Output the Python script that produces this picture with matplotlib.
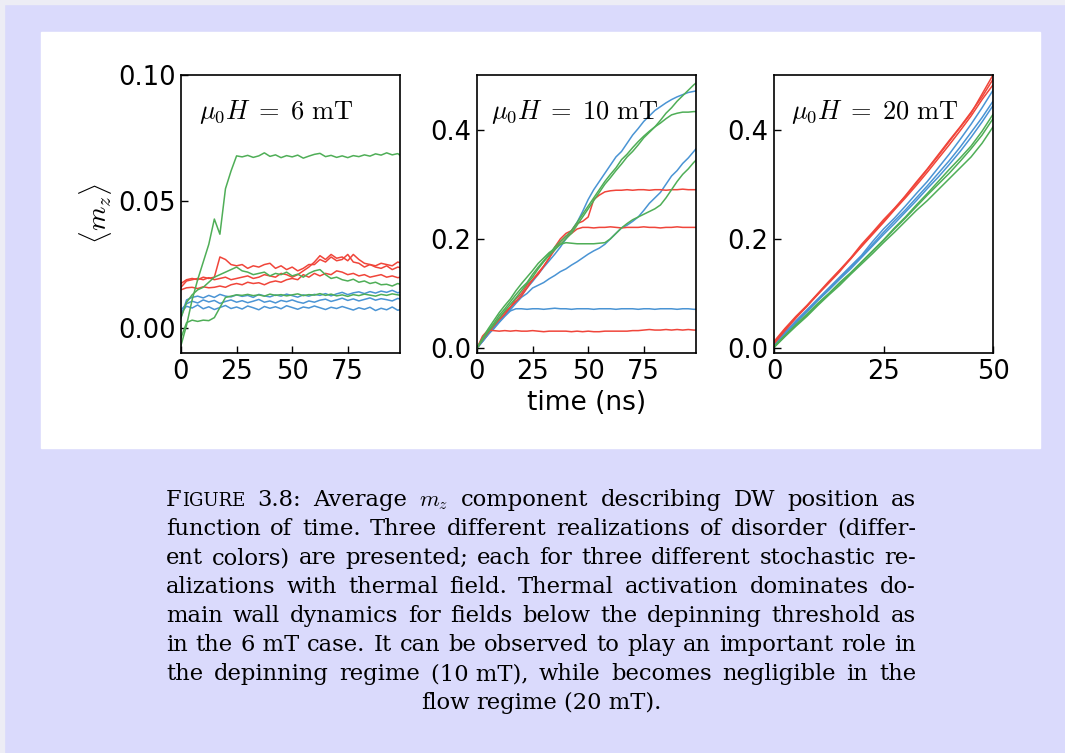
import numpy as np
import matplotlib
matplotlib.use("Agg")
from matplotlib import pyplot as plt
from matplotlib.patches import Rectangle

plt.rcParams['mathtext.fontset'] = 'cm'
plt.rcParams['font.family'] = ['DejaVu Sans']

# colours of the three disorder realizations
RED, BLUE, GREEN = '#f0453a', '#4a94d4', '#4fae57'

# ---- 6 mT (time grid in ns) ----
t6 = np.arange(0, 100.1, 2.5)
g6_a = [-0.007, 0.001, 0.011, 0.019, 0.026, 0.033, 0.043, 0.037, 0.055, 0.062,
        0.068, 0.0676, 0.0682, 0.0674, 0.0680, 0.0692, 0.0678, 0.0684, 0.0673, 0.0681,
        0.0676, 0.0683, 0.0671, 0.0679, 0.0686, 0.0690, 0.0677, 0.0682, 0.0674, 0.0680,
        0.0673, 0.0681, 0.0677, 0.0684, 0.0679, 0.0688, 0.0683, 0.0692, 0.0684, 0.0689,
        0.0672]
g6_b = [0.004, 0.010, 0.013, 0.015, 0.016, 0.018, 0.020, 0.021, 0.022, 0.023,
        0.024, 0.0225, 0.022, 0.021, 0.0215, 0.022, 0.0205, 0.0215, 0.021, 0.022,
        0.0205, 0.0212, 0.020, 0.0215, 0.0225, 0.023, 0.021, 0.0195, 0.020, 0.019,
        0.0185, 0.0192, 0.018, 0.0185, 0.0175, 0.018, 0.017, 0.0172, 0.0165, 0.0175,
        0.0168]
g6_c = [-0.004, 0.002, 0.003, 0.0025, 0.003, 0.0028, 0.004, 0.008, 0.012, 0.0125,
        0.013, 0.0128, 0.0132, 0.0127, 0.013, 0.0125, 0.0133, 0.0128, 0.0131, 0.0126,
        0.013, 0.0134, 0.0127, 0.0131, 0.0129, 0.0135, 0.0128, 0.0133, 0.0126, 0.013,
        0.0124, 0.0131, 0.0127, 0.0133, 0.0129, 0.0125, 0.0132, 0.0128, 0.0134, 0.013,
        0.0127]
r6_a = [0.0175, 0.019, 0.0195, 0.019, 0.020, 0.0195, 0.020, 0.028, 0.027, 0.025,
        0.0245, 0.025, 0.0235, 0.0245, 0.024, 0.025, 0.0255, 0.0235, 0.0245, 0.023,
        0.024, 0.0225, 0.0235, 0.025, 0.025, 0.027, 0.026, 0.028, 0.0265, 0.027,
        0.029, 0.026, 0.0255, 0.024, 0.025, 0.0245, 0.0255, 0.025, 0.0245, 0.026,
        0.0252]
r6_b = [0.016, 0.0185, 0.019, 0.0195, 0.019, 0.0198, 0.019, 0.0195, 0.020, 0.019,
        0.0195, 0.020, 0.0205, 0.0195, 0.020, 0.021, 0.0205, 0.020, 0.0215, 0.021,
        0.020, 0.021, 0.0225, 0.024, 0.026, 0.0285, 0.027, 0.029, 0.0275, 0.028,
        0.0265, 0.029, 0.027, 0.0255, 0.025, 0.024, 0.0235, 0.0245, 0.023, 0.024,
        0.0235]
r6_c = [0.015, 0.0158, 0.016, 0.0155, 0.0162, 0.0158, 0.016, 0.0165, 0.016, 0.017,
        0.0175, 0.017, 0.018, 0.0175, 0.0178, 0.017, 0.018, 0.0185, 0.018, 0.019,
        0.0195, 0.019, 0.021, 0.020, 0.0215, 0.0205, 0.0215, 0.021, 0.0225, 0.022,
        0.021, 0.0215, 0.0205, 0.021, 0.020, 0.0205, 0.021, 0.020, 0.0205, 0.0198,
        0.0202]
b6_a = [0.004, 0.011, 0.012, 0.0125, 0.0118, 0.0128, 0.012, 0.0132, 0.0125, 0.0122,
        0.013, 0.0124, 0.0128, 0.012, 0.0132, 0.0126, 0.0122, 0.013, 0.0125, 0.0133,
        0.0127, 0.0121, 0.013, 0.0125, 0.0132, 0.0128, 0.0135, 0.0126, 0.0134, 0.014,
        0.0131, 0.0138, 0.0142, 0.0135, 0.0143, 0.0137, 0.0145, 0.014, 0.0148, 0.0138,
        0.0146]
b6_b = [0.007, 0.0095, 0.0105, 0.0098, 0.011, 0.0102, 0.0108, 0.0096, 0.0104, 0.011,
        0.0101, 0.0107, 0.0099, 0.0105, 0.0112, 0.0101, 0.0106, 0.0098, 0.0108, 0.0103,
        0.011, 0.0102, 0.0097, 0.0106, 0.0101, 0.0109, 0.0113, 0.0104, 0.011, 0.0117,
        0.0108, 0.0114, 0.0106, 0.0112, 0.0118, 0.0109, 0.0115, 0.0111, 0.0106, 0.0116,
        0.011]
b6_c = [0.006, 0.0085, 0.0078, 0.009, 0.0075, 0.0083, 0.0072, 0.008, 0.0088, 0.0076,
        0.0082, 0.0074, 0.0086, 0.0079, 0.0071, 0.0084, 0.0077, 0.0083, 0.0075, 0.0087,
        0.008, 0.0073, 0.0082, 0.0078, 0.0086, 0.0079, 0.0072, 0.0081, 0.0076, 0.0084,
        0.0077, 0.007, 0.0079, 0.0073, 0.0081, 0.0068, 0.0077, 0.0071, 0.0082, 0.0069,
        0.0076]

# ---- 10 mT ----
t10 = np.arange(0, 100.1, 2.5)
r10_a = [0.0, 0.022, 0.033, 0.032, 0.031, 0.032, 0.031, 0.032, 0.031, 0.031,
         0.032, 0.031, 0.030, 0.031, 0.031, 0.031, 0.031, 0.030, 0.031, 0.030,
         0.031, 0.030, 0.030, 0.031, 0.031, 0.031, 0.031, 0.031, 0.032, 0.032,
         0.033, 0.034, 0.033, 0.033, 0.034, 0.033, 0.034, 0.033, 0.034, 0.033,
         0.033]
r10_b = [0.0, 0.015, 0.028, 0.040, 0.052, 0.062, 0.075, 0.085, 0.095, 0.110,
         0.125, 0.135, 0.150, 0.165, 0.180, 0.195, 0.205, 0.210, 0.218, 0.221,
         0.221, 0.220, 0.221, 0.221, 0.222, 0.221, 0.220, 0.221, 0.221, 0.221,
         0.222, 0.221, 0.221, 0.220, 0.221, 0.221, 0.222, 0.221, 0.221, 0.221,
         0.221]
r10_c = [0.0, 0.018, 0.030, 0.042, 0.055, 0.066, 0.075, 0.090, 0.100, 0.115,
         0.125, 0.138, 0.150, 0.165, 0.185, 0.200, 0.210, 0.215, 0.228, 0.232,
         0.240, 0.272, 0.280, 0.286, 0.288, 0.289, 0.289, 0.290, 0.289, 0.290,
         0.290, 0.289, 0.290, 0.290, 0.289, 0.290, 0.290, 0.291, 0.290, 0.290,
         0.290]
b10_a = [0.0, 0.012, 0.025, 0.035, 0.047, 0.058, 0.068, 0.072, 0.072, 0.071,
         0.072, 0.072, 0.071, 0.072, 0.073, 0.072, 0.072, 0.071, 0.072, 0.072,
         0.072, 0.071, 0.072, 0.072, 0.072, 0.071, 0.072, 0.072, 0.072, 0.071,
         0.072, 0.072, 0.071, 0.072, 0.072, 0.072, 0.071, 0.072, 0.072, 0.071,
         0.071]
b10_b = [0.0, 0.013, 0.025, 0.038, 0.050, 0.062, 0.073, 0.085, 0.097, 0.110,
         0.122, 0.135, 0.148, 0.160, 0.172, 0.185, 0.200, 0.215, 0.230, 0.250,
         0.272, 0.290, 0.305, 0.320, 0.335, 0.350, 0.360, 0.375, 0.390, 0.402,
         0.415, 0.425, 0.435, 0.442, 0.449, 0.455, 0.460, 0.464, 0.468, 0.470,
         0.472]
b10_c = [0.0, 0.012, 0.025, 0.037, 0.048, 0.060, 0.070, 0.082, 0.093, 0.100,
         0.110, 0.115, 0.120, 0.127, 0.133, 0.140, 0.145, 0.152, 0.158, 0.165,
         0.172, 0.178, 0.183, 0.190, 0.200, 0.210, 0.220, 0.225, 0.232, 0.240,
         0.252, 0.265, 0.275, 0.285, 0.300, 0.315, 0.325, 0.338, 0.348, 0.360,
         0.372]
g10_a = [0.0, 0.015, 0.030, 0.042, 0.055, 0.068, 0.080, 0.092, 0.105, 0.118,
         0.130, 0.145, 0.158, 0.170, 0.180, 0.190, 0.200, 0.210, 0.225, 0.240,
         0.255, 0.270, 0.285, 0.300, 0.312, 0.325, 0.337, 0.350, 0.360, 0.372,
         0.385, 0.395, 0.405, 0.417, 0.430, 0.440, 0.452, 0.462, 0.472, 0.482,
         0.490]
g10_b = [0.0, 0.016, 0.032, 0.045, 0.060, 0.072, 0.085, 0.098, 0.110, 0.120,
         0.135, 0.148, 0.160, 0.172, 0.185, 0.195, 0.205, 0.215, 0.230, 0.245,
         0.260, 0.275, 0.290, 0.305, 0.318, 0.330, 0.345, 0.355, 0.367, 0.378,
         0.388, 0.397, 0.405, 0.412, 0.420, 0.427, 0.430, 0.432, 0.432, 0.433,
         0.433]
g10_c = [0.0, 0.018, 0.035, 0.050, 0.065, 0.078, 0.090, 0.105, 0.118, 0.130,
         0.142, 0.155, 0.165, 0.175, 0.182, 0.190, 0.193, 0.192, 0.191, 0.191,
         0.191, 0.191, 0.192, 0.193, 0.200, 0.210, 0.220, 0.228, 0.235, 0.240,
         0.245, 0.250, 0.255, 0.262, 0.275, 0.290, 0.305, 0.318, 0.328, 0.340,
         0.350]

# ---- 20 mT ----
t20 = np.arange(0, 50.1, 2.5)
r20_a = [0.012, 0.036, 0.058, 0.078, 0.100, 0.122, 0.143, 0.165, 0.190, 0.212, 0.235,
         0.256, 0.278, 0.302, 0.327, 0.352, 0.378, 0.404, 0.430, 0.465, 0.500]
r20_b = [0.008, 0.032, 0.055, 0.077, 0.098, 0.120, 0.142, 0.163, 0.187, 0.210, 0.232,
         0.255, 0.279, 0.304, 0.328, 0.354, 0.380, 0.405, 0.432, 0.460, 0.492]
r20_c = [0.010, 0.034, 0.056, 0.076, 0.099, 0.119, 0.140, 0.164, 0.186, 0.208, 0.230,
         0.253, 0.275, 0.298, 0.322, 0.347, 0.372, 0.398, 0.425, 0.455, 0.482]
b20_a = [0.004, 0.028, 0.050, 0.070, 0.090, 0.110, 0.130, 0.150, 0.170, 0.195, 0.218,
         0.238, 0.260, 0.283, 0.305, 0.330, 0.355, 0.382, 0.410, 0.440, 0.472]
b20_b = [0.006, 0.030, 0.048, 0.068, 0.088, 0.108, 0.128, 0.148, 0.168, 0.190, 0.212,
         0.233, 0.253, 0.275, 0.297, 0.320, 0.343, 0.368, 0.395, 0.422, 0.452]
b20_c = [0.003, 0.025, 0.046, 0.066, 0.087, 0.106, 0.126, 0.145, 0.166, 0.187, 0.208,
         0.228, 0.249, 0.270, 0.292, 0.313, 0.336, 0.360, 0.386, 0.414, 0.444]
g20_a = [0.002, 0.022, 0.043, 0.062, 0.082, 0.100, 0.120, 0.138, 0.158, 0.178, 0.198,
         0.220, 0.240, 0.262, 0.283, 0.305, 0.327, 0.348, 0.370, 0.397, 0.428]
g20_b = [0.003, 0.023, 0.042, 0.060, 0.080, 0.099, 0.118, 0.137, 0.157, 0.177, 0.197,
         0.218, 0.238, 0.259, 0.280, 0.300, 0.320, 0.342, 0.365, 0.390, 0.420]
g20_c = [0.001, 0.021, 0.040, 0.058, 0.078, 0.097, 0.115, 0.135, 0.154, 0.173, 0.193,
         0.212, 0.232, 0.252, 0.270, 0.290, 0.310, 0.330, 0.350, 0.375, 0.405]

field_labels = [r'$\mu_0H\;=\;6\ \mathrm{mT}$', r'$\mu_0H\;=\;10\ \mathrm{mT}$',
                r'$\mu_0H\;=\;20\ \mathrm{mT}$']

caption = [
    "FIGURE 3.8: Average $m_z$ component describing DW position as",
    "function of time. Three different realizations of disorder (differ-",
    "ent colors) are presented; each for three different stochastic re-",
    "alizations with thermal field. Thermal activation dominates do-",
    "main wall dynamics for fields below the depinning threshold as",
    "in the 6\u00a0mT case. It can be observed to play an important role in",
    "the depinning regime (10\u00a0mT), while becomes negligible in the",
    "flow regime (20\u00a0mT).",
]

W, H = 1065, 753
fig = plt.figure(figsize=(W / 100, H / 100), dpi=100)
fig.patch.set_facecolor('#dadafc')
fig.add_artist(Rectangle((0, 0), 4 / W, 1, transform=fig.transFigure,
                         color='#ededf5', zorder=-2))
fig.add_artist(Rectangle((0, 1 - 4 / H), 1, 4 / H, transform=fig.transFigure,
                         color='#ededf5', zorder=-2))
fig.add_artist(Rectangle((41 / W, 1 - 448 / H), 999 / W, 416 / H,
                         transform=fig.transFigure, color='white', zorder=-1))

panels = [
    (t6, [b6_a, b6_b, b6_c], [r6_a, r6_b, r6_c], [g6_a, g6_b, g6_c]),
    (t10, [b10_a, b10_b, b10_c], [r10_a, r10_b, r10_c], [g10_a, g10_b, g10_c]),
    (t20, [b20_a, b20_b, b20_c], [r20_a, r20_b, r20_c], [g20_a, g20_b, g20_c]),
]
lefts = [181, 477, 774]
label_x = [0.082, 0.064, 0.078]
axes = []
for k, (t, blues, reds, greens) in enumerate(panels):
    ax = fig.add_axes([lefts[k] / W, 1 - 353 / H, 219 / W, 278 / H])
    for ys in blues:
        ax.plot(t, ys, color=BLUE, lw=1.1)
    for ys in reds:
        ax.plot(t, ys, color=RED, lw=1.1)
    for ys in greens:
        ax.plot(t, ys, color=GREEN, lw=1.1)
    ax.tick_params(direction='in', labelsize=18.5, length=5, width=1, pad=4,
                   top=False, right=False)
    for s in ax.spines.values():
        s.set_linewidth(1.2)
    ax.text(label_x[k], 0.867, field_labels[k], transform=ax.transAxes,
            fontsize=19, va='center', ha='left')
    axes.append(ax)

axes[0].set_xlim(0, 98.5)
axes[0].set_ylim(-0.01, 0.10)
axes[0].set_xticks([0, 25, 50, 75])
axes[0].set_yticks([0.0, 0.05, 0.10])
axes[1].set_xlim(0, 98.5)
axes[1].set_ylim(-0.009, 0.5)
axes[1].set_xticks([0, 25, 50, 75])
axes[1].set_yticks([0.0, 0.2, 0.4])
axes[2].set_xlim(0, 50)
axes[2].set_ylim(-0.009, 0.5)
axes[2].set_xticks([0, 25, 50])
axes[2].set_yticks([0.0, 0.2, 0.4])

fig.text(95 / W, 1 - 214 / H, r'$\langle m_z \rangle$', rotation=90,
         fontsize=20, ha='center', va='center')
fig.text(587 / W, 1 - 403 / H, 'time (ns)', fontsize=19, ha='center', va='center')

# justified caption, word by word; font size fitted to the text block width
CAP_FONT = 'DejaVu Serif'
L, R = 166, 916
fig.canvas.draw()
rend = fig.canvas.get_renderer()
widest = 0
for line in caption[:-1]:
    probe = fig.text(0, 0, line, fontsize=10, family=CAP_FONT)
    widest = max(widest, probe.get_window_extent(rend).width)
    probe.remove()
CAP_FS = 10 * (R - L - 8) / widest

for n, line in enumerate(caption):
    ybase = 1 - (506 + 29 * n) / H
    words = line.split(' ')
    pieces = []
    for w in words:
        segs = [('F', CAP_FS), ('IGURE', CAP_FS * 0.8)] if w == 'FIGURE' else [(w, CAP_FS)]
        ts = [fig.text(0, ybase, s, fontsize=sz, family=CAP_FONT, va='baseline')
              for s, sz in segs]
        ws = [t.get_window_extent(rend).width for t in ts]
        pieces.append((ts, ws))
    total = sum(sum(ws) for _, ws in pieces)
    if n < len(caption) - 1:
        gap = (R - L - total) / (len(words) - 1)
        x = L
    else:
        gap = CAP_FS * 100 / 72 * 0.3
        x = (L + R) / 2 - (total + gap * (len(words) - 1)) / 2
    for ts, ws in pieces:
        for t, tw in zip(ts, ws):
            t.set_x(x / W)
            x += tw
        x += gap

fig.savefig('out.png', dpi=100, facecolor=fig.get_facecolor())
